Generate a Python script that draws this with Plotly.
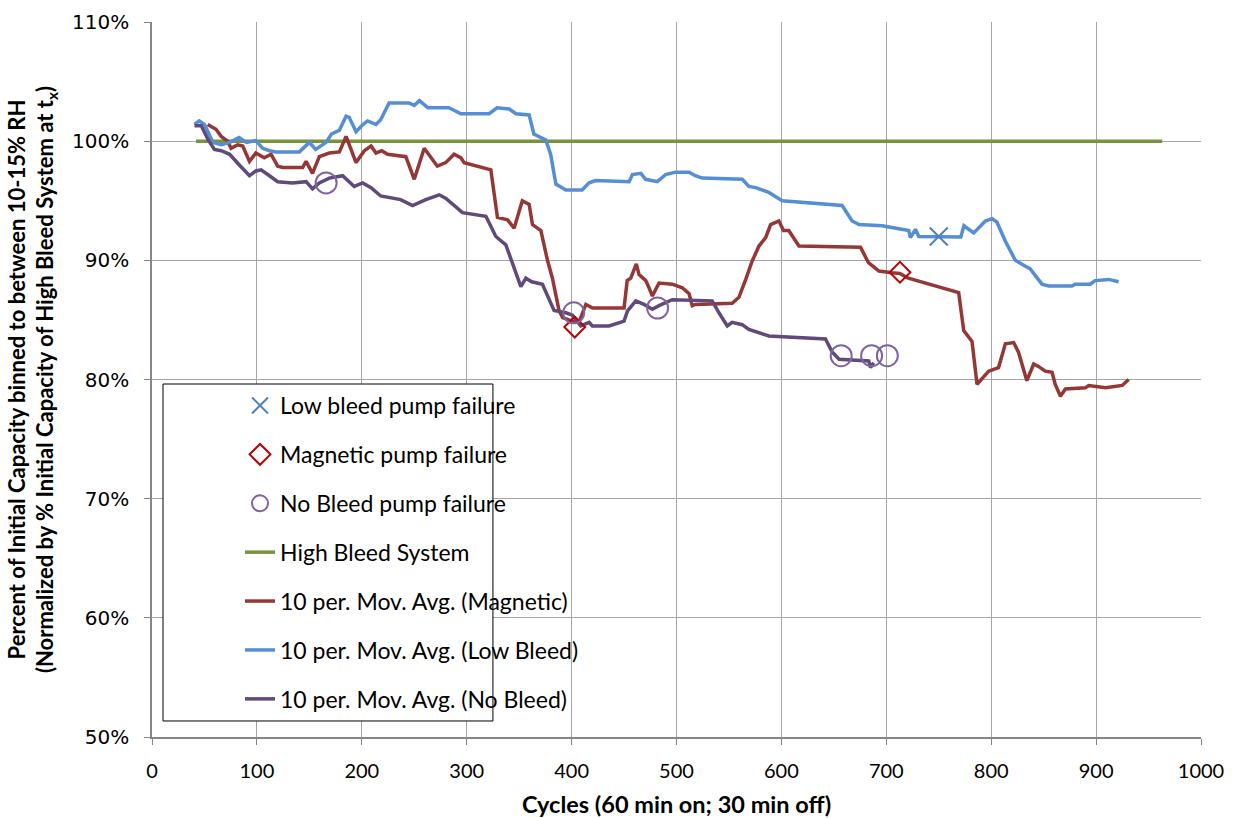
import plotly.graph_objects as go

# ---------------- data ----------------
low_x = [40.5, 45, 50, 58, 66, 74, 83, 90, 99, 105.5, 112, 118, 140.5, 150, 156, 166, 171, 178.5, 185, 188,
         194.5, 201, 205.5, 213.5, 218, 226, 245, 250, 255, 263, 283, 294.5, 321.4, 329, 340.5, 347, 359.5,
         364, 375.4, 380, 385, 394.5, 410, 416.7, 423, 454.8, 458, 466, 470.6, 481.7, 489.7, 499, 512, 518,
         524.6, 562.7, 569, 575.4, 588, 600.8, 657.9, 667.4, 674, 696, 721.4, 723, 727.8, 731, 771, 774,
         783.3, 794.5, 800.8, 805.5, 813.5, 823, 832.6, 837, 848.4, 854.8, 877, 880, 894.5, 899, 912, 921.4]
low_y = [101.4, 101.7, 101.4, 99.9, 99.7, 99.9, 100.3, 99.9, 100.05, 99.4, 99.2, 99.1, 99.1, 99.9, 99.3, 99.9,
         100.6, 100.9, 102.1, 102.0, 100.8, 101.4, 101.7, 101.4, 101.8, 103.2, 103.2, 103.0, 103.4, 102.8,
         102.8, 102.3, 102.3, 102.8, 102.7, 102.3, 102.2, 100.6, 100.1, 98.9, 96.4, 95.9, 95.9, 96.5, 96.7,
         96.6, 97.2, 97.3, 96.8, 96.6, 97.2, 97.4, 97.4, 97.1, 96.9, 96.8, 96.2, 96.1, 95.7, 95.0, 94.6, 93.3,
         93.0, 92.9, 92.5, 91.9, 92.6, 92.0, 91.95, 92.9, 92.3, 93.3, 93.5, 93.2, 91.6, 90.0, 89.5, 89.3, 88.0,
         87.85, 87.85, 88.0, 88.0, 88.3, 88.4, 88.2]

mag_x = [53, 57, 61, 66, 72, 75.4, 81.7, 86.5, 92.9, 99, 107, 113.5, 119.8, 124.6, 143.6, 146.9, 153, 159.5,
         169, 178.6, 185, 194.5, 202.4, 208.8, 213.5, 219, 224.6, 242, 250, 259.5, 266, 272, 280, 288, 294.5,
         297.6, 323, 329.3, 338.9, 345.2, 353, 359.5, 362.7, 370.7, 377, 381.7, 388, 391.4, 400.8, 407, 413.6,
         420, 450, 453, 456.4, 461.7, 464.3, 470.7, 473.8, 477, 483.3, 496, 505.5, 512, 515, 518, 553, 559.5,
         566, 572, 578.6, 585, 589.7, 597.6, 602, 607, 616.7, 675.4, 683, 693, 705.5, 712.8, 721, 769, 773.8,
         781.7, 786.5, 797.6, 807, 813.5, 821.4, 826, 829.3, 834, 840.5, 845, 851.6, 858, 861, 866, 870.7,
         889.7, 893, 909, 924.9, 931]
mag_y = [101.4, 101.2, 101.0, 100.4, 100.0, 99.4, 99.7, 99.6, 98.3, 99.0, 98.6, 98.9, 97.9, 97.8, 97.8, 98.3,
         97.3, 98.7, 99.0, 99.1, 100.4, 98.2, 99.2, 99.6, 99.0, 99.2, 98.9, 98.7, 96.8, 99.4, 98.6, 97.9, 98.2,
         98.9, 98.6, 98.2, 97.6, 93.6, 93.4, 92.7, 95.0, 94.7, 93.0, 92.5, 90.0, 88.5, 85.8, 85.2, 84.9, 84.8,
         86.3, 86.0, 86.0, 88.3, 88.5, 89.7, 88.8, 88.3, 87.7, 87.0, 88.1, 88.0, 87.7, 87.2, 86.2, 86.3, 86.4,
         86.9, 88.4, 89.9, 91.2, 91.9, 93.0, 93.3, 92.5, 92.5, 91.2, 91.1, 89.8, 89.1, 88.95, 88.9, 88.5, 87.3,
         84.1, 83.2, 79.6, 80.7, 81.0, 83.0, 83.1, 82.3, 81.3, 79.9, 81.3, 81.1, 80.7, 80.6, 79.6, 78.6, 79.2,
         79.3, 79.5, 79.3, 79.5, 80.0]

nob_x = [40.5, 47, 53.6, 59.5, 66, 74, 83.3, 92.9, 99, 104, 112, 119.8, 134, 146.9, 153, 159.5, 169, 181.7,
         192.8, 200.8, 208.8, 218, 237, 248.4, 261, 273.8, 280.2, 288, 296, 318.3, 327.8, 337.3, 343.6, 351.6,
         356.4, 362, 372.2, 377, 383.3, 394.5, 400.8, 408.7, 416.7, 419.8, 435.7, 450, 453.3, 461.2, 469, 477,
         483.3, 496, 534, 540.5, 548.4, 553, 562.7, 569, 578.6, 588, 642, 648.4, 655, 683.3, 685, 688]
nob_y = [101.3, 101.3, 100.1, 99.3, 99.2, 98.9, 98.0, 97.1, 97.5, 97.6, 97.1, 96.6, 96.5, 96.6, 96.0, 96.5,
         96.9, 97.1, 96.2, 96.5, 96.1, 95.4, 95.1, 94.6, 95.1, 95.5, 95.2, 94.6, 94.0, 93.7, 92.0, 91.3, 89.7,
         87.8, 88.5, 88.2, 88.0, 87.0, 85.8, 85.6, 85.4, 84.5, 84.8, 84.5, 84.5, 84.9, 85.75, 86.6, 86.3, 85.9,
         86.2, 86.7, 86.6, 85.6, 84.5, 84.8, 84.6, 84.2, 83.9, 83.65, 83.4, 82.3, 81.7, 81.55, 81.0, 81.4]

high_x = [42, 963]
high_y = [100, 100]

low_fail_x = [750]
low_fail_y = [92.0]
mag_fail_x = [403, 713]
mag_fail_y = [84.4, 89.0]
nob_fail_x = [166, 402, 482, 657, 686, 701]
nob_fail_y = [96.5, 85.6, 86.0, 82.0, 82.0, 82.0]

x_ticks = list(range(0, 1001, 100))
y_ticks = list(range(50, 111, 10))

# ---------------- figure ----------------
fig = go.Figure()

fig.add_trace(go.Scatter(x=high_x, y=high_y, mode="lines", name="High Bleed System",
                         line=dict(color="#77933C", width=3.5), legendrank=4, legendgroup="g4"))
fig.add_trace(go.Scatter(x=mag_x, y=mag_y, mode="lines", name="10 per. Mov. Avg. (Magnetic)",
                         line=dict(color="#953735", width=3.5), legendrank=5, legendgroup="g5"))
fig.add_trace(go.Scatter(x=low_x, y=low_y, mode="lines", name="10 per. Mov. Avg. (Low Bleed)",
                         line=dict(color="#558ED5", width=3.5), legendrank=6, legendgroup="g6"))
fig.add_trace(go.Scatter(x=nob_x, y=nob_y, mode="lines", name="10 per. Mov. Avg. (No Bleed)",
                         line=dict(color="#604A7B", width=3.5), legendrank=7, legendgroup="g7"))

fig.add_trace(go.Scatter(x=low_fail_x, y=low_fail_y, mode="markers", name="Low bleed pump failure",
                         marker=dict(symbol="x-thin-open", size=18, line=dict(color="#4F81BD", width=2),
                                     color="#4F81BD"),
                         legendrank=1, legendgroup="g1"))
fig.add_trace(go.Scatter(x=mag_fail_x, y=mag_fail_y, mode="markers", name="Magnetic pump failure",
                         marker=dict(symbol="diamond-open", size=16, color="#C00000",
                                     line=dict(color="#C00000", width=2)),
                         legendrank=2, legendgroup="g2"))
fig.add_trace(go.Scatter(x=nob_fail_x, y=nob_fail_y, mode="markers", name="No Bleed pump failure",
                         marker=dict(symbol="circle-open", size=21, color="#8064A2",
                                     line=dict(color="#8064A2", width=2)),
                         legendrank=3, legendgroup="g3"))

title_font = dict(family="Lato, sans-serif", size=22, color="black")

fig.update_layout(
    width=1237, height=818,
    margin=dict(l=152, r=36, t=22, b=81, autoexpand=False),
    paper_bgcolor="white", plot_bgcolor="white",
    showlegend=True,
    legend=dict(
        x=0.0839, y=0.4937, xanchor="left", yanchor="top",
        bgcolor="rgba(0,0,0,0)", borderwidth=0,
        font=dict(family="Lato, Open Sans, sans-serif", size=23, color="black"),
        traceorder="grouped", tracegroupgap=16,
    ),
    shapes=[dict(type="rect", xref="paper", yref="paper",
                 x0=0.0105, x1=0.325, y0=0.0224, y1=0.4937,
                 fillcolor="white", line=dict(color="black", width=1), layer="above")],
)

fig.update_xaxes(
    range=[0, 1000], tickvals=x_ticks, ticktext=[str(v) for v in x_ticks],
    showgrid=True, gridcolor="#A6A6A6", gridwidth=1,
    showline=True, linecolor="#868686", linewidth=1.5,
    ticks="outside", ticklen=6, tickcolor="#868686",
    tickfont=dict(family="Lato, sans-serif", size=20, color="black"),
    ticklabelstandoff=9, automargin=False,
    title=dict(text="<b>Cycles (60 min on; 30 min off)</b>",
               font=dict(family="Lato, sans-serif", size=23.5, color="black"), standoff=20),
    zeroline=False,
)
fig.update_yaxes(
    range=[50, 110], tickvals=y_ticks, ticktext=[f"{v}%" for v in y_ticks],
    showgrid=True, gridcolor="#A6A6A6", gridwidth=1,
    showline=True, linecolor="#868686", linewidth=1.5,
    ticks="outside", ticklen=6, tickcolor="#868686",
    tickfont=dict(family="DejaVu Sans, Verdana, sans-serif", size=20, color="black"),
    ticklabelstandoff=11, automargin=False,
    title=dict(text="<b>Percent of Initial Capacity binned to between 10-15% RH<br>"
                    "(Normalized by % Initial Capacity of High Bleed System at t<sub>x</sub>)</b>",
               font=title_font, standoff=12),
    zeroline=False,
)

fig.write_html("out.html")
